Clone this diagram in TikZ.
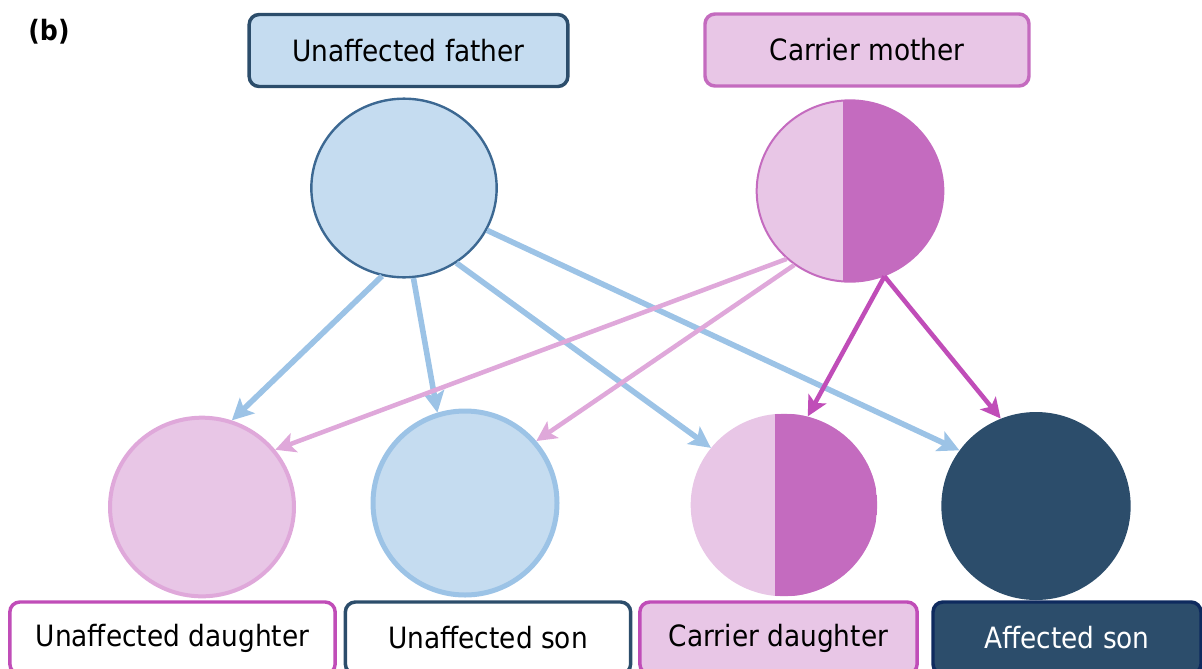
\documentclass[tikz,border=0pt]{standalone}
\usepackage{fontspec}
\setmainfont{DejaVu Sans}[FakeStretch=0.9]
\usetikzlibrary{shapes.geometric,arrows.meta}
\definecolor{lblue}{HTML}{C5DCF0}
\definecolor{fborder}{HTML}{3C6892}
\definecolor{navy}{HTML}{2C4D6B}
\definecolor{navyb}{HTML}{0E2A5E}
\definecolor{lpink}{HTML}{E8C6E6}
\definecolor{mag}{HTML}{C46BBF}
\definecolor{magarr}{HTML}{C04DB8}
\definecolor{pinkarr}{HTML}{DFA8DA}
\definecolor{bluearr}{HTML}{9CC3E6}
\begin{document}
\begin{tikzpicture}[x=0.75pt,y=-0.75pt,
  lab/.style={rounded corners=7.5pt,line width=2.6pt,minimum height=54pt,inner sep=0pt,font=\fontsize{22}{26}\selectfont},
  person/.style={ellipse,inner sep=0pt},
  barr/.style={draw=bluearr,line width=4.2pt,-{Stealth[length=16pt,width=16pt,inset=3.5pt]}},
  parr/.style={draw=pinkarr,line width=3.4pt,-{Stealth[length=15pt,width=15pt,inset=3.5pt]}},
  marr/.style={draw=magarr,line width=3.4pt,-{Stealth[length=15pt,width=15pt,inset=3.5pt]}}
]
\useasboundingbox (0,0) rectangle (1202,668);
\node[font=\bfseries\fontsize{21}{24}\selectfont] (blab) at (49,32) {(b)};
% parent labels
\node[lab,draw=navy,fill=lblue,minimum width=239pt] (fbox) at (408.5,50.5) {Unaffected father};
\node[lab,draw=mag,fill=lpink,minimum width=243pt] (mbox) at (867,50) {Carrier mother};
% parents
\node[person,draw=fborder,line width=1.8pt,fill=lblue,minimum width=139pt,minimum height=134pt] (fa) at (404,188) {};
\node[person,draw=mag,line width=1.5pt,fill=lpink,minimum width=140pt,minimum height=136pt,
  path picture={\fill[mag] ([xshift=-5.25pt]path picture bounding box.north) rectangle (path picture bounding box.south east);}] (mo) at (850,191) {};
% children
\node[person,draw=pinkarr,line width=3pt,fill=lpink,minimum width=138pt,minimum height=134pt] (ud) at (202,507) {};
\node[person,draw=bluearr,line width=3.75pt,fill=lblue,minimum width=138pt,minimum height=138pt] (us) at (465,503) {};
\node[person,fill=lpink,minimum width=140pt,minimum height=137pt,
  path picture={\fill[mag] ([xshift=-6.75pt]path picture bounding box.north) rectangle (path picture bounding box.south east);}] (cd) at (784,505) {};
\node[person,fill=navy,minimum width=142pt,minimum height=141pt] (as) at (1036,506) {};
% child labels
\node[lab,draw=magarr,fill=white,minimum width=244pt] (udbox) at (172.5,638) {Unaffected daughter};
\node[lab,draw=navy,fill=white,minimum width=214pt] (usbox) at (488,638) {Unaffected son};
\node[lab,draw=magarr,fill=lpink,minimum width=208pt] (cdbox) at (778.5,638) {Carrier daughter};
\node[lab,draw=navyb,fill=navy,text=white,minimum width=201pt] (asbox) at (1067,638) {Affected son};
% connectors from father
\draw[barr] (fa.-104) -- (ud.71);
\draw[barr] (fa.-84) -- (us.107);
\draw[barr] (fa.-55) -- (cd.142);
\draw[barr] (fa.-27) -- (as.144);
% from mother
\draw[parr] (mo.-133) -- (ud.38);
\draw[parr] (mo.-127) -- (us.41);
\draw[marr] (mo.-68) -- (cd.75);
\draw[marr] (mo.-68) -- (as.112);
\end{tikzpicture}
\end{document}
